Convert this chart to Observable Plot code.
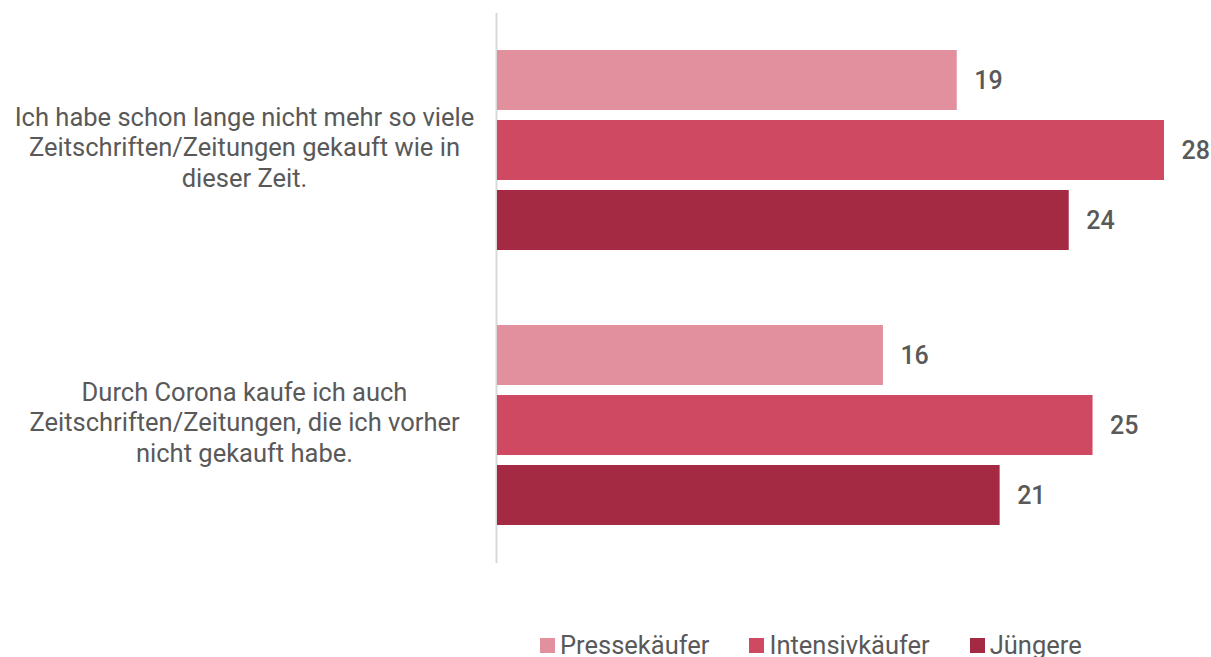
<!DOCTYPE html>
<html><head><meta charset="utf-8">
<script src="https://cdn.jsdelivr.net/npm/d3@7"></script>
<script src="https://cdn.jsdelivr.net/npm/@observablehq/plot@0.6"></script>
<style>
body{margin:0;background:#fff;font-family:Roboto,sans-serif;}
#legend{display:flex;gap:0;margin-left:540px;margin-top:3px;font-size:25.5px;color:#595959;line-height:28px;}
#legend .item{display:flex;align-items:center;margin-right:40px;}
#legend .sw{width:15px;height:15px;margin-right:5px;}
</style></head>
<body><div id="chart"></div><div id="legend"></div>
<script>
const questions = [
  "Ich habe schon lange nicht mehr so viele Zeitschriften/Zeitungen gekauft wie in dieser Zeit.",
  "Durch Corona kaufe ich auch Zeitschriften/Zeitungen, die ich vorher nicht gekauft habe."
];
const questionLines = [
  "Ich habe schon lange nicht mehr so viele\nZeitschriften/Zeitungen gekauft wie in\ndieser Zeit.",
  "Durch Corona kaufe ich auch\nZeitschriften/Zeitungen, die ich vorher\nnicht gekauft habe."
];
const series = ["Pressekäufer", "Intensivkäufer", "Jüngere"];
const colors = ["#e2909e", "#ce4961", "#a42a43"];
const values1 = [19.3, 28, 24];
const values2 = [16.2, 25, 21.1];

const data = [];
series.forEach((s, i) => {
  data.push({question: questions[0], series: s, value: values1[i]});
  data.push({question: questions[1], series: s, value: values2[i]});
});
const qdata = questions.map((q, i) => ({question: q, label: questionLines[i]}));

const chart = Plot.plot({
  width: 1211,
  height: 628,
  marginLeft: 497,
  marginRight: 47,
  marginTop: 12,
  marginBottom: 66,
  style: {fontFamily: "Roboto, sans-serif", background: "#fff"},
  x: {domain: [0, 28], axis: null},
  y: {domain: series, paddingInner: 10/70, paddingOuter: 0, axis: null},
  fy: {domain: questions, paddingInner: 75/275, paddingOuter: 37/275, axis: null},
  color: {domain: series, range: colors},
  marks: [
    Plot.ruleX([0], {stroke: "#d9d9d9", strokeWidth: 2, dx: -1, insetTop: -37, insetBottom: -38}),
    Plot.barX(data, {x: "value", y: "series", fy: "question", fill: "series"}),
    Plot.text(data, {x: "value", y: "series", fy: "question", text: d => String(Math.round(d.value)), textAnchor: "start", dx: 17, fontSize: 25, fontWeight: 500, fill: "#595959"}),
    Plot.text(qdata, {fy: "question", text: "label", frameAnchor: "left", dx: -253, dy: -4, textAnchor: "middle", fontSize: 25.5, lineHeight: 30.5/25.5, fill: "#595959"})
  ]
});
document.getElementById("chart").appendChild(chart);

const legend = document.getElementById("legend");
series.forEach((s, i) => {
  const item = document.createElement("div");
  item.className = "item";
  const sw = document.createElement("span");
  sw.className = "sw";
  sw.style.background = colors[i];
  const t = document.createElement("span");
  t.textContent = s;
  item.appendChild(sw); item.appendChild(t);
  legend.appendChild(item);
});
</script></body></html>
